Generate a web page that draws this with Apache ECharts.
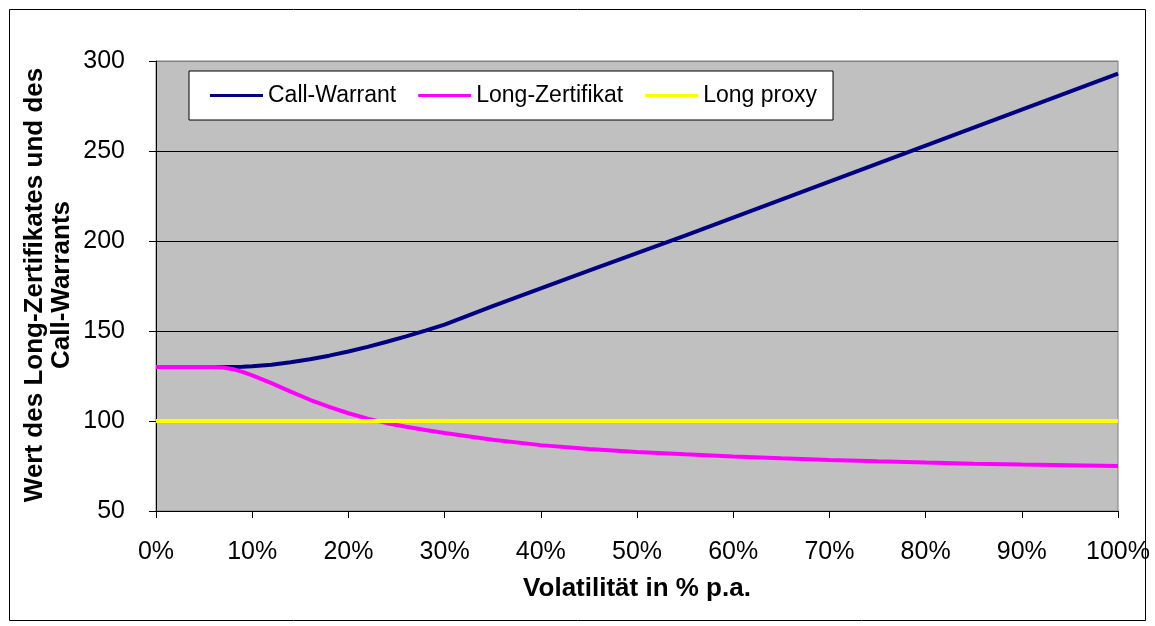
<!DOCTYPE html>
<html>
<head>
<meta charset="utf-8">
<script src="https://cdn.jsdelivr.net/npm/echarts@6/dist/echarts.min.js"></script>
<style>
  html, body { margin: 0; padding: 0; background: #ffffff; }
  #chart { width: 1155px; height: 626px; }
</style>
</head>
<body>
<div id="chart"></div>
<script>
// Volatility in % p.a.
const volatility = [0, 2, 4, 6, 7, 8, 9, 10, 12, 14, 16, 18, 20, 22, 24, 26, 28, 30,
                    35, 40, 45, 50, 55, 60, 65, 70, 75, 80, 85, 90, 95, 100];
// Value of the call warrant
const callWarrant = [130, 130, 130, 130, 130, 130, 130.1, 130.4, 131.3, 132.6, 134.3, 136.3, 138.6, 141.2, 144, 147, 150.2, 153.5,
                     163.8, 173.7, 183.5, 193.3, 203, 213, 223, 233, 243, 253, 263, 273, 283, 293];
// Value of the long certificate
const longZertifikat = [130, 130, 130, 130, 129.7, 128.8, 127.3, 125.3, 121, 116.3, 111.8, 107.8, 104.3, 101.3, 98.8, 96.8, 95, 93.3,
                        89.6, 86.6, 84.4, 82.8, 81.5, 80.3, 79.3, 78.4, 77.6, 76.9, 76.3, 75.8, 75.4, 75];
// Long proxy reference level
const longProxy = volatility.map(() => 100);

const seriesNames = ['Call-Warrant', 'Long-Zertifikat', 'Long proxy'];
const seriesColors = ['#000080', '#FF00FF', '#FFFF00'];
const yTitle = 'Wert des Long-Zertifikates und des\nCall-Warrants';
const xTitle = 'Volatilität in % p.a.';

const font = 'Liberation Sans, Arial, sans-serif';
const pairs = (ys) => volatility.map((x, i) => [x, ys[i]]);
const seriesData = [callWarrant, longZertifikat, longProxy];

const chart = echarts.init(document.getElementById('chart'), null, { renderer: 'canvas' });
chart.setOption({
  animation: false,
  backgroundColor: '#ffffff',
  textStyle: { fontFamily: font },
  graphic: [
    {
      // outer chart frame
      type: 'rect',
      shape: { x: 9.5, y: 9.5, width: 1136, height: 611 },
      style: { fill: 'none', stroke: '#000000', lineWidth: 1 },
      silent: true
    },
    {
      // vertical axis title, two lines, rotated
      type: 'text',
      x: 48, y: 285,
      rotation: Math.PI / 2,
      style: {
        text: yTitle,
        fontFamily: font, fontSize: 26, fontWeight: 'bold',
        lineHeight: 27,
        fill: '#000000',
        align: 'center', verticalAlign: 'middle'
      },
      silent: true
    }
  ],
  grid: {
    left: 156, right: 37, top: 61, bottom: 115,
    show: true, backgroundColor: '#C0C0C0', borderColor: '#808080', borderWidth: 1
  },
  legend: {
    left: 189, top: 71,
    orient: 'horizontal',
    padding: [13, 16, 13, 21],
    backgroundColor: '#ffffff',
    borderColor: '#000000', borderWidth: 1,
    itemGap: 22, itemWidth: 53, itemHeight: 3,
    icon: 'rect',
    textStyle: { fontFamily: font, fontSize: 23, color: '#000000' },
    data: seriesNames
  },
  xAxis: {
    type: 'value', min: 0, max: 100, interval: 10,
    name: xTitle, nameLocation: 'middle', nameGap: 65,
    nameTextStyle: { fontFamily: font, fontSize: 26, fontWeight: 'bold', color: '#000000' },
    axisLine: { lineStyle: { color: '#000000', width: 1 } },
    axisTick: { show: true, inside: false, length: 7, lineStyle: { color: '#000000' } },
    axisLabel: { formatter: '{value}%', margin: 29, fontSize: 25, color: '#000000', fontFamily: font },
    splitLine: { show: false }
  },
  yAxis: {
    type: 'value', min: 50, max: 300, interval: 50,
    axisLine: { show: true, lineStyle: { color: '#000000', width: 1 } },
    axisTick: { show: true, inside: false, length: 7, lineStyle: { color: '#000000' } },
    axisLabel: { margin: 31, fontSize: 25, color: '#000000', fontFamily: font },
    splitLine: {
      show: true,
      lineStyle: { color: ['#000000', '#000000', '#000000', '#000000', '#000000', '#808080'], width: 1 }
    }
  },
  series: seriesNames.map((name, i) => ({
    name,
    type: 'line',
    data: pairs(seriesData[i]),
    showSymbol: false,
    symbol: 'none',
    smooth: false,
    color: seriesColors[i],
    lineStyle: { color: seriesColors[i], width: 4 },
    z: 2 + i
  }))
});
</script>
</body>
</html>
